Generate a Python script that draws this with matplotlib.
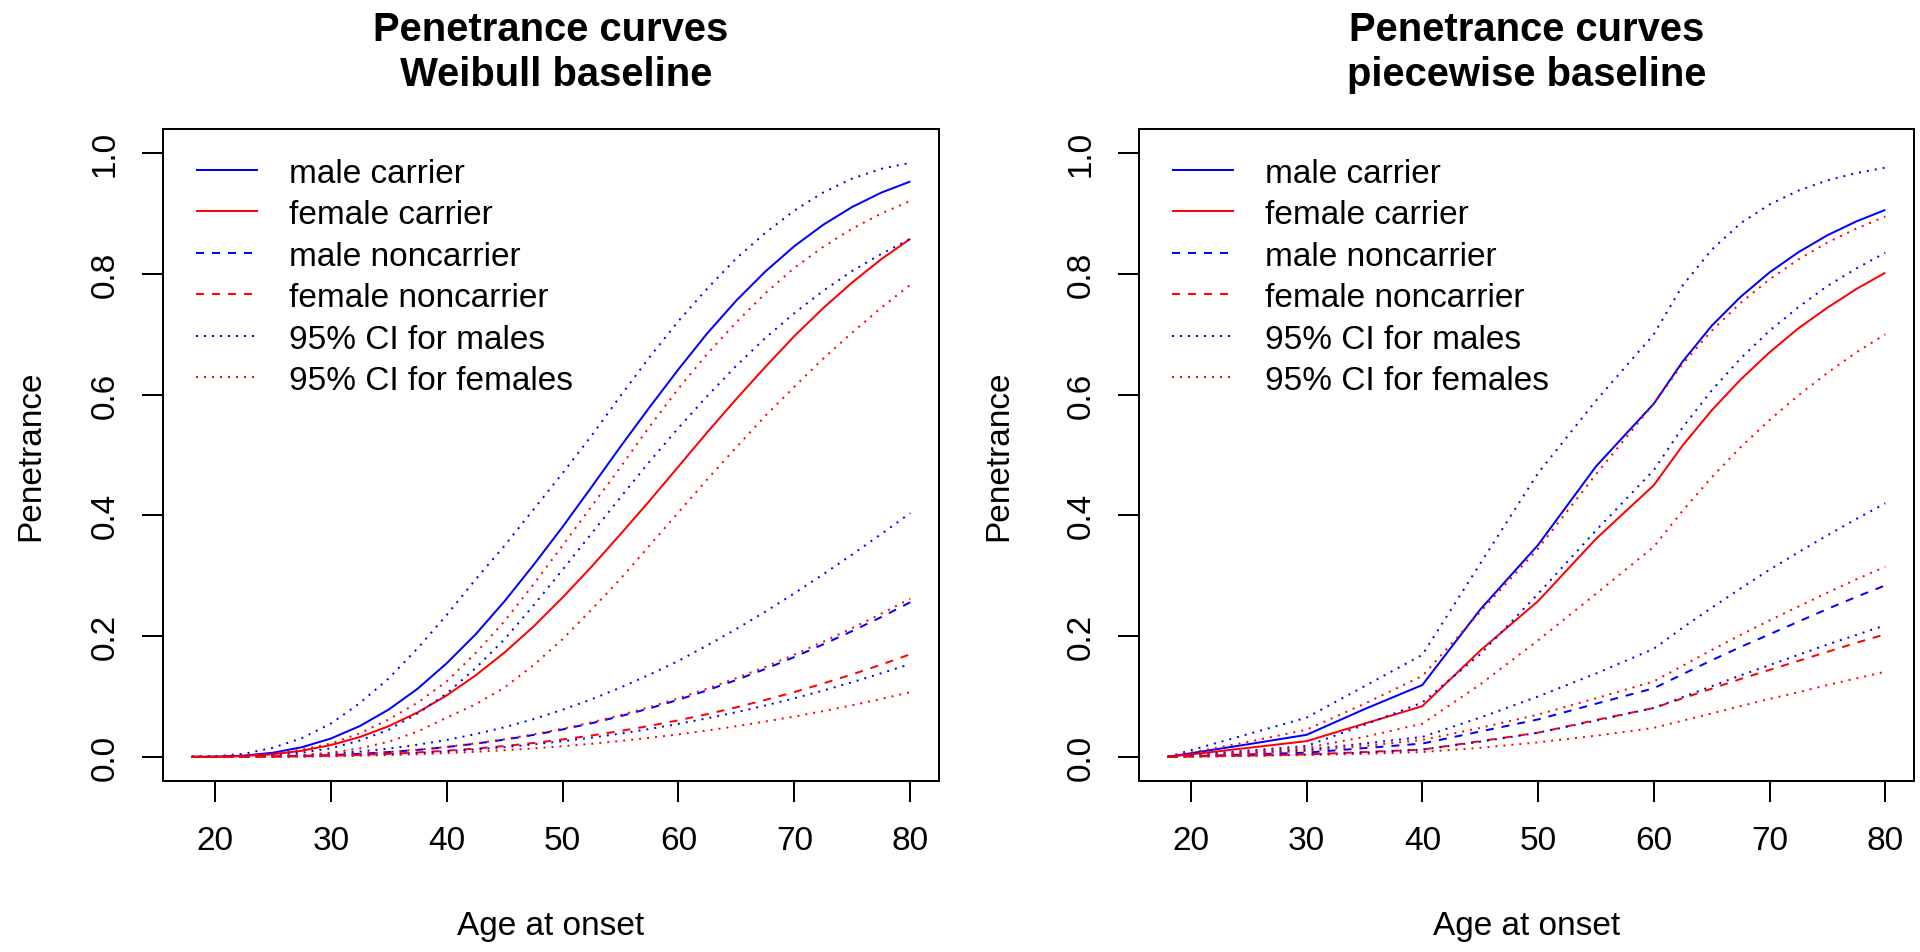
import matplotlib
matplotlib.use("Agg")
import matplotlib.pyplot as plt

plt.rcParams['font.family'] = ['Liberation Sans', 'DejaVu Sans']

# ---- Weibull baseline panel ----
ages_wb = [18, 20, 22.5, 25, 27.5, 30, 32.5, 35, 37.5, 40, 42.5, 45, 47.5, 50, 52.5,
           55, 57.5, 60, 62.5, 65, 67.5, 70, 72.5, 75, 77.5, 80]
wb_male_carrier = [0, 0.0002, 0.002, 0.0068, 0.0159, 0.0303, 0.051, 0.0784, 0.113, 0.155, 0.203, 0.258, 0.318,
                   0.381, 0.447, 0.514, 0.579, 0.642, 0.702, 0.756, 0.804, 0.846, 0.8815, 0.911, 0.9346, 0.953]
wb_female_carrier = [0, 0.0001, 0.0013, 0.0043, 0.0101, 0.0195, 0.0328, 0.0508, 0.0737, 0.1018, 0.135, 0.173, 0.216,
                     0.264, 0.315, 0.369, 0.424, 0.481, 0.538, 0.593, 0.646, 0.697, 0.7435, 0.786, 0.8244, 0.858]
wb_male_noncarrier = [0, 0.00002, 0.0002, 0.00066, 0.00155, 0.00298, 0.00505, 0.0079, 0.0115, 0.0162, 0.0218, 0.0285,
                      0.0363, 0.0454, 0.0557, 0.0674, 0.0803, 0.0946, 0.1103, 0.1274, 0.1456, 0.1654, 0.1864, 0.2085,
                      0.2316, 0.256]
wb_female_noncarrier = [0, 0.00001, 0.00012, 0.0004, 0.00097, 0.0019, 0.0032, 0.0050, 0.0073, 0.0102, 0.0137, 0.0180,
                        0.0230, 0.0288, 0.0354, 0.0429, 0.0513, 0.0606, 0.0708, 0.0821, 0.0943, 0.1073, 0.1217, 0.1367,
                        0.1528, 0.170]
wb_male_carrier_hi = [0, 0.001, 0.005, 0.015, 0.031, 0.055, 0.089, 0.13, 0.18, 0.235, 0.294, 0.35, 0.41,
                      0.47, 0.532, 0.598, 0.662, 0.722, 0.776, 0.826, 0.868, 0.905, 0.935, 0.958, 0.974, 0.984]
wb_male_carrier_lo = [0, 0.0, 0.001, 0.003, 0.007, 0.014, 0.027, 0.045, 0.072, 0.105, 0.147, 0.195, 0.251,
                      0.31, 0.37, 0.43, 0.489, 0.545, 0.598, 0.648, 0.694, 0.735, 0.772, 0.805, 0.833, 0.858]
wb_female_carrier_hi = [0, 0.0003, 0.002, 0.005, 0.012, 0.022, 0.039, 0.062, 0.09, 0.125, 0.172, 0.225, 0.286,
                        0.35, 0.415, 0.48, 0.547, 0.61, 0.668, 0.72, 0.768, 0.81, 0.845, 0.875, 0.9, 0.921]
wb_female_carrier_lo = [0, 0.0, 0.0004, 0.001, 0.003, 0.007, 0.014, 0.025, 0.042, 0.065, 0.087, 0.115, 0.152,
                        0.195, 0.244, 0.295, 0.35, 0.405, 0.46, 0.513, 0.565, 0.613, 0.66, 0.703, 0.744, 0.782]
wb_male_noncarrier_hi = [0, 0.00003, 0.00033, 0.00115, 0.0027, 0.0052, 0.0088, 0.0137, 0.0201, 0.028, 0.0377, 0.0491,
                         0.0625, 0.078, 0.0953, 0.1148, 0.1361, 0.159, 0.1848, 0.2118, 0.2406, 0.2709, 0.3026, 0.3353,
                         0.3692, 0.4037]
wb_male_noncarrier_lo = [0, 0.00001, 0.00011, 0.00037, 0.00087, 0.00168, 0.00286, 0.00446, 0.00653, 0.00915, 0.01234,
                         0.0161, 0.0206, 0.0259, 0.0318, 0.0386, 0.0462, 0.0546, 0.0639, 0.0740, 0.0851, 0.0970, 0.1099,
                         0.1237, 0.1385, 0.1538]
wb_female_noncarrier_hi = [0, 0.00002, 0.0002, 0.00067, 0.00159, 0.0031, 0.0052, 0.0081, 0.0118, 0.0166, 0.0223, 0.0292,
                           0.0373, 0.0466, 0.0572, 0.0692, 0.0824, 0.0971, 0.1131, 0.1305, 0.1492, 0.1693, 0.1908,
                           0.2134, 0.2372, 0.262]
wb_female_noncarrier_lo = [0, 0.00001, 0.00007, 0.00025, 0.00059, 0.00114, 0.00194, 0.0030, 0.0044, 0.0062, 0.0084,
                           0.0110, 0.0140, 0.0176, 0.0217, 0.0263, 0.0315, 0.0373, 0.0437, 0.0508, 0.0585, 0.0668,
                           0.0758, 0.0855, 0.0960, 0.107]

# ---- piecewise baseline panel ----
ages_pw = [18, 20, 25, 30, 35, 40, 45, 50, 55, 60, 62.5, 65, 67.5, 70, 72.5, 75, 77.5, 80]
pw_male_carrier = [0, 0.006, 0.021, 0.0365, 0.079, 0.119, 0.244, 0.351, 0.481, 0.585,
                   0.655, 0.714, 0.762, 0.8025, 0.836, 0.864, 0.887, 0.906]
pw_female_carrier = [0, 0.004, 0.015, 0.026, 0.055, 0.084, 0.176, 0.258, 0.361, 0.45,
                     0.516, 0.574, 0.625, 0.67, 0.71, 0.744, 0.775, 0.802]
pw_male_noncarrier = [0, 0.001, 0.004, 0.007, 0.0145, 0.022, 0.042, 0.062, 0.088, 0.1136,
                      0.137, 0.160, 0.182, 0.203, 0.224, 0.245, 0.265, 0.284]
pw_female_noncarrier = [0, 0.0005, 0.002, 0.004, 0.008, 0.012, 0.026, 0.040, 0.061, 0.081,
                        0.097, 0.113, 0.129, 0.144, 0.159, 0.174, 0.189, 0.203]
pw_male_carrier_hi = [0, 0.011, 0.038, 0.065, 0.117, 0.169, 0.32, 0.47, 0.59, 0.70,
                      0.781, 0.840, 0.884, 0.915, 0.938, 0.955, 0.967, 0.976]
pw_male_carrier_lo = [0, 0.003, 0.0105, 0.018, 0.053, 0.09, 0.17, 0.27, 0.375, 0.475,
                      0.546, 0.607, 0.660, 0.706, 0.745, 0.780, 0.809, 0.835]
pw_female_carrier_hi = [0, 0.007, 0.025, 0.045, 0.088, 0.134, 0.24, 0.345, 0.468, 0.585,
                        0.651, 0.706, 0.752, 0.791, 0.824, 0.852, 0.875, 0.895]
pw_female_carrier_lo = [0, 0.002, 0.008, 0.015, 0.033, 0.055, 0.12, 0.193, 0.27, 0.348,
                        0.408, 0.463, 0.513, 0.558, 0.599, 0.636, 0.670, 0.70]
pw_male_noncarrier_hi = [0, 0.002, 0.007, 0.012, 0.022, 0.033, 0.065, 0.10, 0.138, 0.179,
                         0.214, 0.247, 0.279, 0.310, 0.339, 0.367, 0.394, 0.42]
pw_male_noncarrier_lo = [0, 0.0005, 0.002, 0.004, 0.007, 0.012, 0.025, 0.040, 0.060, 0.081,
                         0.099, 0.117, 0.135, 0.152, 0.169, 0.186, 0.202, 0.218]
pw_female_noncarrier_hi = [0, 0.001, 0.005, 0.01, 0.018, 0.028, 0.048, 0.07, 0.097, 0.125,
                           0.151, 0.177, 0.202, 0.226, 0.249, 0.272, 0.294, 0.315]
pw_female_noncarrier_lo = [0, 0.0005, 0.002, 0.003, 0.005, 0.008, 0.015, 0.024, 0.035, 0.048,
                           0.060, 0.072, 0.084, 0.096, 0.107, 0.119, 0.130, 0.141]

legend_labels = ["male carrier", "female carrier", "male noncarrier",
                 "female noncarrier", "95% CI for males", "95% CI for females"]
titles = ["Penetrance curves\n Weibull baseline", "Penetrance curves\npiecewise baseline"]
x_ticks = [20, 30, 40, 50, 60, 70, 80]
y_ticks = [0.0, 0.2, 0.4, 0.6, 0.8, 1.0]

BLUE = "#0000FF"
RED = "#FF0000"
LW = 1.44
SOLID = dict(linestyle="-", solid_capstyle="butt")
DASH = dict(linestyle=(0, (4, 4)), dash_capstyle="butt")
DOT = dict(linestyle=(0, (1, 3)), dash_capstyle="butt")

W, H = 1920, 953
fig = plt.figure(figsize=(W / 100, H / 100), dpi=100)

def px_axes(l, r, t, b):
    return fig.add_axes([l / W, 1 - b / H, (r - l) / W, (b - t) / H])

panels = [
    (px_axes(163, 939, 130, 782), ages_wb,
     [wb_male_carrier, wb_female_carrier, wb_male_noncarrier, wb_female_noncarrier],
     [wb_male_carrier_hi, wb_male_carrier_lo, wb_male_noncarrier_hi, wb_male_noncarrier_lo],
     [wb_female_carrier_hi, wb_female_carrier_lo, wb_female_noncarrier_hi, wb_female_noncarrier_lo],
     -0.1706),
    (px_axes(1139, 1914, 130, 782), ages_pw,
     [pw_male_carrier, pw_female_carrier, pw_male_noncarrier, pw_female_noncarrier],
     [pw_male_carrier_hi, pw_male_carrier_lo, pw_male_noncarrier_hi, pw_male_noncarrier_lo],
     [pw_female_carrier_hi, pw_female_carrier_lo, pw_female_noncarrier_hi, pw_female_noncarrier_lo],
     -0.181),
]

FS = 24
for i, (ax, ages, main, ci_m, ci_f, ylab_x) in enumerate(panels):
    mc, fc, mn, fn = main
    ax.plot(ages, mc, color=BLUE, lw=LW, **SOLID)
    ax.plot(ages, fc, color=RED, lw=LW, **SOLID)
    ax.plot(ages, mn, color=BLUE, lw=LW, **DASH)
    ax.plot(ages, fn, color=RED, lw=LW, **DASH)
    for s in ci_m:
        ax.plot(ages, s, color=BLUE, lw=LW, **DOT)
    for s in ci_f:
        ax.plot(ages, s, color=RED, lw=LW, **DOT)

    ax.set_xlim(15.52, 82.48)
    ax.set_ylim(-0.04, 1.04)
    ax.set_xticks(x_ticks)
    ax.set_yticks(y_ticks)
    ax.set_yticklabels([f"{v:.1f}" for v in y_ticks])
    ax.tick_params(axis="both", length=15, width=1.44, labelsize=FS, direction="out")
    ax.tick_params(axis="x", pad=17)
    ax.tick_params(axis="y", pad=15.5, labelrotation=90)
    for lab in ax.get_yticklabels():
        lab.set_va("center")
    for sp in ax.spines.values():
        sp.set_linewidth(1.44)
    ax.set_xlabel("Age at onset", fontsize=FS, va="center")
    ax.xaxis.set_label_coords(0.5, (782 - 927) / 652)
    ax.set_ylabel("Penetrance", fontsize=FS, va="center")
    ax.yaxis.set_label_coords(ylab_x, 0.5)

    ax.set_title(titles[i], fontsize=FS * 1.2, fontweight="bold",
                 va="center", y=(782 - 60.5) / 652, linespacing=1.24)

    styles = [(BLUE, SOLID), (RED, SOLID), (BLUE, DASH), (RED, DASH), (BLUE, DOT), (RED, DOT)]
    rows_px = [171, 212, 254, 295, 337, 378]
    for (col, st), lab, ypx in zip(styles, legend_labels, rows_px):
        yf = (782 - ypx) / 652
        ax.plot([33 / 776, 95 / 776], [yf, yf], transform=ax.transAxes,
                color=col, lw=LW, **st)
        ax.text(126 / 776, yf, lab, transform=ax.transAxes, fontsize=FS,
                va="center_baseline", ha="left")

fig.savefig("out.png", dpi=100)
